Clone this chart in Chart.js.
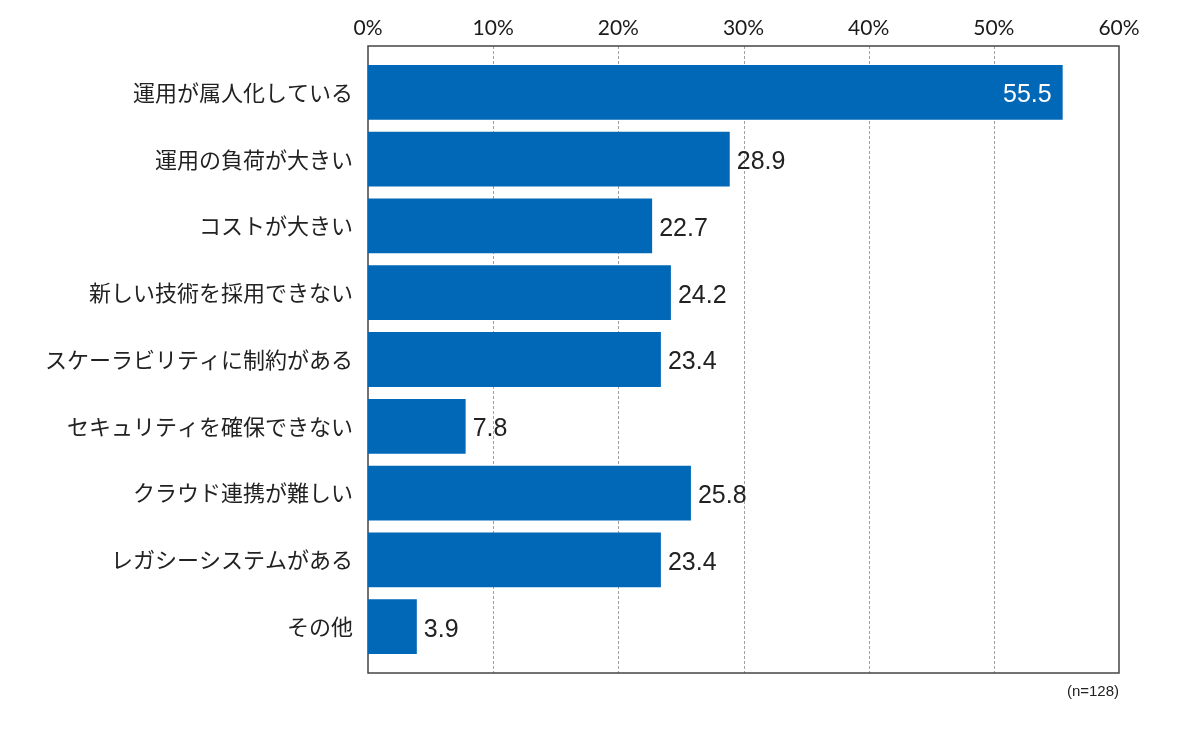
<!DOCTYPE html>
<html lang="ja">
<head>
<meta charset="utf-8">
<script src="https://cdn.jsdelivr.net/npm/chart.js@4/dist/chart.umd.min.js"></script>
<style>
  html, body { margin: 0; padding: 0; background: #fff; }
  #wrap { width: 1200px; height: 729px; }
</style>
</head>
<body>
<div id="wrap"><canvas id="chart"></canvas></div>
<script>
// --------- Datos ---------
const CATEGORIES = [
    "運用が属人化している",
    "運用の負荷が大きい",
    "コストが大きい",
    "新しい技術を採用できない",
    "スケーラビリティに制約がある",
    "セキュリティを確保できない",
    "クラウド連携が難しい",
    "レガシーシステムがある",
    "その他",
];
const VALUES = [55.5, 28.9, 22.7, 24.2, 23.4, 7.8, 25.8, 23.4, 3.9];
const X_MAX = 60;
const X_STEP = 10;
const NOTE = "(n=128)";

const BAR_COLOR = "#0068b7";
const JP_FONT = "'Noto Sans CJK JP', 'Noto Sans', sans-serif";
const NUM_FONT = "'Liberation Sans', Arial, sans-serif";
const FRAME_PAD = 13; // el marco sobresale un poco del área de categorías

// Etiquetas de valor al final de cada barra
const valueLabels = {
    id: "valueLabels",
    afterDatasetsDraw(chart) {
        const ctx = chart.ctx;
        const meta = chart.getDatasetMeta(0);
        ctx.save();
        ctx.font = "25px " + NUM_FONT;
        ctx.textBaseline = "middle";
        meta.data.forEach((bar, i) => {
            const txt = VALUES[i].toFixed(1);
            if (VALUES[i] > 50) {
                ctx.fillStyle = "#fff";
                ctx.textAlign = "right";
                ctx.fillText(txt, bar.x - 11, bar.y + 3);
            } else {
                ctx.fillStyle = "#222";
                ctx.textAlign = "left";
                ctx.fillText(txt, bar.x + 7, bar.y + 3);
            }
        });
        ctx.restore();
    },
};

// Marco, líneas de guía punteadas y nota (n=...)
const frame = {
    id: "frame",
    beforeDatasetsDraw(chart) {
        const { ctx, chartArea: a } = chart;
        const xs = chart.scales.x;
        const top = a.top - FRAME_PAD;
        const bottom = a.bottom + FRAME_PAD;
        ctx.save();
        ctx.strokeStyle = "#a0a0a0";
        ctx.lineWidth = 1;
        ctx.setLineDash([3, 2]);
        for (let v = X_STEP; v < X_MAX; v += X_STEP) {
            const x = Math.round(xs.getPixelForValue(v)) + 0.5;
            ctx.beginPath();
            ctx.moveTo(x, top);
            ctx.lineTo(x, bottom);
            ctx.stroke();
        }
        ctx.setLineDash([]);
        ctx.strokeStyle = "#444";
        ctx.lineWidth = 1.5;
        ctx.strokeRect(a.left, top, a.right - a.left, bottom - top);
        ctx.restore();
    },
    afterDraw(chart) {
        const { ctx, chartArea: a } = chart;
        ctx.save();
        ctx.font = "15px " + NUM_FONT;
        ctx.fillStyle = "#222";
        ctx.textAlign = "right";
        ctx.textBaseline = "middle";
        ctx.fillText(NOTE, a.right, a.bottom + FRAME_PAD + 19);
        ctx.restore();
    },
};

new Chart(document.getElementById("chart").getContext("2d"), {
    type: "bar",
    data: {
        labels: CATEGORIES,
        datasets: [{
            data: VALUES,
            backgroundColor: BAR_COLOR,
            borderWidth: 0,
            barPercentage: 0.82,
            categoryPercentage: 1.0,
        }],
    },
    options: {
        indexAxis: "y",
        responsive: true,
        maintainAspectRatio: false,
        animation: false,
        layout: { padding: { left: 0, right: 81, top: 0, bottom: 69 } },
        plugins: {
            legend: { display: false },
            tooltip: { enabled: false },
        },
        scales: {
            x: {
                position: "top",
                min: 0,
                max: X_MAX,
                afterFit: (s) => { s.height = 59; },
                ticks: {
                    stepSize: X_STEP,
                    padding: 10,
                    color: "#1a1a1a",
                    font: { family: "Lato, 'Liberation Sans', sans-serif", size: 21 },
                    callback: (v) => v + "%",
                },
                grid: { display: false },
                border: { display: false },
            },
            y: {
                afterFit: (s) => { s.width = 368; },
                ticks: {
                    padding: 7,
                    color: "#222",
                    font: { family: JP_FONT, size: 22 },
                },
                grid: { display: false },
                border: { display: false },
            },
        },
    },
    plugins: [valueLabels, frame],
});
</script>
</body>
</html>
